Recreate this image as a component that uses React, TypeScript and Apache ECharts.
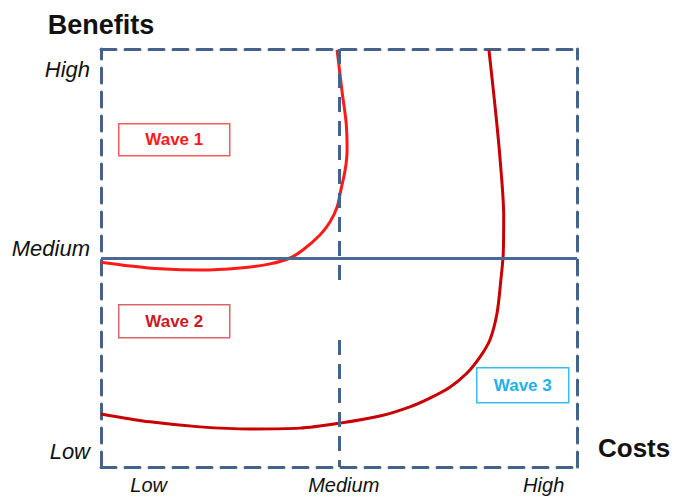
import React, { useEffect, useRef } from "react";
import * as echarts from "echarts";

const costLabels = ["Low", "Medium", "High"];
const costLabelPositions = [10, 51, 93];
const benefitLabels = ["Low", "Medium", "High"];
const benefitLabelPositions = [3.8, 52.2, 95.2];

const wave1Curve: [number, number][] = [
  [0, 49.0], [6.1, 48.1], [12.4, 47.4], [20.8, 47.1], [29.2, 47.6],
  [35.5, 48.6], [39.7, 50.0], [42.4, 51.9], [46.0, 55.5], [48.1, 58.6],
  [49.6, 62.2], [50.4, 66.3], [51.3, 71.1], [51.7, 75.8], [51.5, 82.3],
  [50.6, 90.2], [49.6, 99.8],
];
const wave2Curve: [number, number][] = [
  [0, 12.7], [10.3, 10.8], [20.8, 9.6], [31.3, 9.1], [41.8, 9.3],
  [50.2, 10.5], [58.6, 12.2], [64.9, 14.4], [69.1, 16.5], [73.3, 19.1],
  [76.9, 22.5], [79.6, 26.3], [81.7, 30.4], [83.2, 36.8], [84.0, 44.7],
  [84.5, 51.0], [84.6, 60.0], [83.8, 74.2], [82.8, 86.1],
  [81.5, 99.8],
];
const waveNames = ["Wave 1", "Wave 2", "Wave 3"];

const BOX = "#43628c";
const FONT = "Liberation Sans, Arial, sans-serif";

export default function App() {
  const ref = useRef<HTMLDivElement>(null);
  useEffect(() => {
    const chart = echarts.init(ref.current!, null, { renderer: "svg" });
    const dashed = { color: BOX, width: 3, type: [15, 9] as any };
    const labelStyle = {
      fontFamily: FONT,
      fontStyle: "italic" as const,
      color: "#111",
    };
    const waveBox = (x: number, y: number, w: number, h: number, text: string, fg: string, border: string) => ({
      type: "group",
      left: x,
      top: y,
      children: [
        { type: "rect", shape: { x: 0, y: 0, width: w, height: h }, style: { fill: "#fff", stroke: border, lineWidth: 1.5 } },
        {
          type: "text",
          x: w / 2,
          y: h / 2,
          style: { text, fill: fg, font: `bold 17px ${FONT}`, align: "center", verticalAlign: "middle" },
        },
      ],
    });
    const plainAxis = (pos: string) => ({
      type: "value",
      min: 0,
      max: 100,
      position: pos,
      axisLine: { show: true, onZero: false, lineStyle: dashed },
      axisTick: { show: false },
      splitLine: { show: false },
      axisLabel: { show: false },
    });
    chart.setOption({
      animation: false,
      grid: { left: 101, right: 98, top: 49, bottom: 30, containLabel: false, outerBoundsMode: "none" },
      xAxis: [
        {
          type: "value",
          min: 0,
          max: 100,
          position: "bottom",
          axisLine: { show: true, onZero: false, lineStyle: dashed },
          axisTick: { show: false },
          splitLine: { show: false },
          axisLabel: {
            customValues: costLabelPositions,
            formatter: (v: number) => costLabels[costLabelPositions.indexOf(v)] ?? "",
            margin: 8,
            fontSize: 20,
            ...labelStyle,
          },
          name: "Costs",
          nameLocation: "end",
          nameGap: 21,
          nameTextStyle: {
            fontFamily: FONT,
            fontWeight: "bold",
            fontSize: 26,
            color: "#111",
            verticalAlign: "bottom",
            padding: [0, 0, 6, 0],
          },
        },
        plainAxis("top"),
      ],
      yAxis: [
        {
          type: "value",
          min: 0,
          max: 100,
          position: "left",
          axisLine: { show: true, onZero: false, lineStyle: dashed },
          axisTick: { show: false },
          splitLine: { show: false },
          axisLabel: {
            customValues: benefitLabelPositions,
            formatter: (v: number) => benefitLabels[benefitLabelPositions.indexOf(v)] ?? "",
            margin: 11,
            fontSize: 22,
            ...labelStyle,
          },
          name: "Benefits",
          nameLocation: "end",
          nameGap: 11,
          nameTextStyle: { fontFamily: FONT, fontWeight: "bold", fontSize: 27, color: "#111" },
        },
        plainAxis("right"),
      ],
      series: [
        {
          type: "line",
          data: [],
          silent: true,
          markLine: {
            symbol: "none",
            silent: true,
            label: { show: false },
            data: [
              [{ coord: [50, 100], lineStyle: dashed }, { coord: [50, 44] }],
              [{ coord: [50, 30.4], lineStyle: dashed }, { coord: [50, 0] }],
              [{ coord: [0, 50], lineStyle: { color: "#4a6894", width: 3, type: "solid" } }, { coord: [100, 50] }],
            ],
          },
        },
        {
          type: "line",
          data: wave1Curve,
          smooth: 0.3,
          showSymbol: false,
          lineStyle: { color: "#ff1a1a", width: 3 },
        },
        {
          type: "line",
          data: wave2Curve,
          smooth: 0.3,
          showSymbol: false,
          lineStyle: { color: "#c80000", width: 3 },
        },
      ],
      graphic: [
        waveBox(118, 123, 111, 32, waveNames[0], "#ff1a1a", "#ff5a5a"),
        waveBox(118, 304, 111, 33, waveNames[1], "#cc1a22", "#d9656a"),
        waveBox(476, 367, 92, 35, waveNames[2], "#1fb2ec", "#38bdf0"),
      ],
    });
    return () => chart.dispose();
  }, []);
  return <div ref={ref} style={{ width: 675, height: 497, position: "absolute", left: 0, top: 0 }} />;
}
